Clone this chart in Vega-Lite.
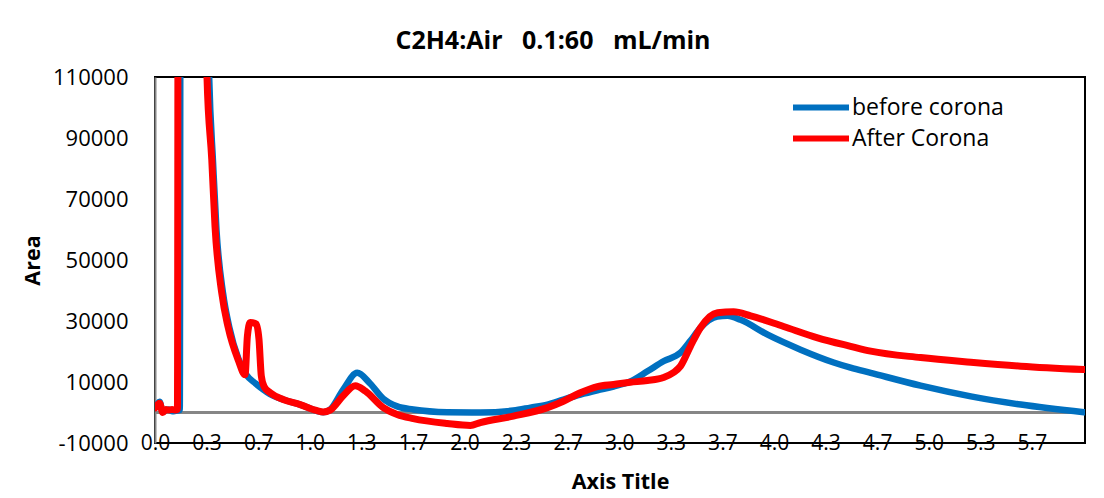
{
  "$schema": "https://vega.github.io/schema/vega-lite/v6.json",
  "width": 930,
  "height": 366,
  "autosize": "none",
  "padding": {"left": 155, "top": 77, "right": 19, "bottom": 55},
  "background": "white",
  "config": {
    "font": "Open Sans",
    "view": {"stroke": "black", "strokeWidth": 2},
    "axis": {"grid": false, "ticks": false, "labelColor": "black", "titleColor": "black"}
  },
  "title": {
    "text": "C2H4:Air\u00a0 \u00a00.1:60\u00a0 \u00a0mL/min",
    "font": "Open Sans",
    "fontSize": 25,
    "fontWeight": "bold",
    "color": "black",
    "anchor": "middle",
    "dx": -67,
    "dy": 25,
    "baseline": "middle",
    "offset": 25
  },
  "data": {
    "values": [
      {"t": 0.0, "v": 1500, "s": "before corona"},
      {"t": 0.03, "v": 3500, "s": "before corona"},
      {"t": 0.05, "v": 300, "s": "before corona"},
      {"t": 0.07, "v": 800, "s": "before corona"},
      {"t": 0.09, "v": 1000, "s": "before corona"},
      {"t": 0.11, "v": 400, "s": "before corona"},
      {"t": 0.14, "v": 600, "s": "before corona"},
      {"t": 0.16, "v": 800, "s": "before corona"},
      {"t": 0.168, "v": 300000, "s": "before corona"},
      {"t": 0.3, "v": 300000, "s": "before corona"},
      {"t": 0.33, "v": 160000, "s": "before corona"},
      {"t": 0.35, "v": 110000, "s": "before corona"},
      {"t": 0.375, "v": 82000, "s": "before corona"},
      {"t": 0.397, "v": 60000, "s": "before corona"},
      {"t": 0.44, "v": 39000, "s": "before corona"},
      {"t": 0.48, "v": 28000, "s": "before corona"},
      {"t": 0.54, "v": 17500, "s": "before corona"},
      {"t": 0.59, "v": 12400, "s": "before corona"},
      {"t": 0.65, "v": 9500, "s": "before corona"},
      {"t": 0.7, "v": 7500, "s": "before corona"},
      {"t": 0.744, "v": 6000, "s": "before corona"},
      {"t": 0.828, "v": 4250, "s": "before corona"},
      {"t": 0.938, "v": 2600, "s": "before corona"},
      {"t": 1.048, "v": 500, "s": "before corona"},
      {"t": 1.087, "v": 100, "s": "before corona"},
      {"t": 1.132, "v": 1000, "s": "before corona"},
      {"t": 1.216, "v": 7500, "s": "before corona"},
      {"t": 1.307, "v": 13000, "s": "before corona"},
      {"t": 1.39, "v": 9500, "s": "before corona"},
      {"t": 1.475, "v": 4500, "s": "before corona"},
      {"t": 1.565, "v": 2000, "s": "before corona"},
      {"t": 1.669, "v": 1000, "s": "before corona"},
      {"t": 1.889, "v": 100, "s": "before corona"},
      {"t": 2.102, "v": 0, "s": "before corona"},
      {"t": 2.316, "v": 650, "s": "before corona"},
      {"t": 2.426, "v": 1600, "s": "before corona"},
      {"t": 2.536, "v": 2600, "s": "before corona"},
      {"t": 2.639, "v": 4250, "s": "before corona"},
      {"t": 2.749, "v": 5900, "s": "before corona"},
      {"t": 2.859, "v": 7300, "s": "before corona"},
      {"t": 2.963, "v": 8500, "s": "before corona"},
      {"t": 3.072, "v": 10200, "s": "before corona"},
      {"t": 3.182, "v": 13500, "s": "before corona"},
      {"t": 3.286, "v": 16800, "s": "before corona"},
      {"t": 3.396, "v": 19600, "s": "before corona"},
      {"t": 3.46, "v": 23500, "s": "before corona"},
      {"t": 3.525, "v": 27800, "s": "before corona"},
      {"t": 3.635, "v": 31500, "s": "before corona"},
      {"t": 3.7, "v": 31700, "s": "before corona"},
      {"t": 3.784, "v": 30400, "s": "before corona"},
      {"t": 3.959, "v": 25500, "s": "before corona"},
      {"t": 4.172, "v": 20600, "s": "before corona"},
      {"t": 4.386, "v": 16400, "s": "before corona"},
      {"t": 4.495, "v": 14700, "s": "before corona"},
      {"t": 4.625, "v": 13000, "s": "before corona"},
      {"t": 4.948, "v": 8800, "s": "before corona"},
      {"t": 5.272, "v": 5300, "s": "before corona"},
      {"t": 5.595, "v": 2600, "s": "before corona"},
      {"t": 6.003, "v": 100, "s": "before corona"},
      {"t": 0.0, "v": 1500, "s": "After Corona"},
      {"t": 0.03, "v": 3000, "s": "After Corona"},
      {"t": 0.05, "v": 0, "s": "After Corona"},
      {"t": 0.07, "v": 1000, "s": "After Corona"},
      {"t": 0.09, "v": 800, "s": "After Corona"},
      {"t": 0.11, "v": 1000, "s": "After Corona"},
      {"t": 0.13, "v": 800, "s": "After Corona"},
      {"t": 0.145, "v": 1000, "s": "After Corona"},
      {"t": 0.152, "v": 300000, "s": "After Corona"},
      {"t": 0.3, "v": 300000, "s": "After Corona"},
      {"t": 0.32, "v": 160000, "s": "After Corona"},
      {"t": 0.336, "v": 110000, "s": "After Corona"},
      {"t": 0.367, "v": 82800, "s": "After Corona"},
      {"t": 0.388, "v": 60900, "s": "After Corona"},
      {"t": 0.431, "v": 39300, "s": "After Corona"},
      {"t": 0.472, "v": 28100, "s": "After Corona"},
      {"t": 0.537, "v": 17300, "s": "After Corona"},
      {"t": 0.582, "v": 12400, "s": "After Corona"},
      {"t": 0.597, "v": 25000, "s": "After Corona"},
      {"t": 0.615, "v": 29500, "s": "After Corona"},
      {"t": 0.655, "v": 29000, "s": "After Corona"},
      {"t": 0.672, "v": 24000, "s": "After Corona"},
      {"t": 0.687, "v": 12000, "s": "After Corona"},
      {"t": 0.705, "v": 8500, "s": "After Corona"},
      {"t": 0.744, "v": 6500, "s": "After Corona"},
      {"t": 0.828, "v": 4250, "s": "After Corona"},
      {"t": 0.938, "v": 2600, "s": "After Corona"},
      {"t": 1.048, "v": 600, "s": "After Corona"},
      {"t": 1.087, "v": 200, "s": "After Corona"},
      {"t": 1.132, "v": 800, "s": "After Corona"},
      {"t": 1.216, "v": 5500, "s": "After Corona"},
      {"t": 1.294, "v": 8800, "s": "After Corona"},
      {"t": 1.36, "v": 7000, "s": "After Corona"},
      {"t": 1.475, "v": 1600, "s": "After Corona"},
      {"t": 1.565, "v": -650, "s": "After Corona"},
      {"t": 1.669, "v": -2000, "s": "After Corona"},
      {"t": 1.889, "v": -3600, "s": "After Corona"},
      {"t": 2.038, "v": -4250, "s": "After Corona"},
      {"t": 2.102, "v": -3300, "s": "After Corona"},
      {"t": 2.316, "v": -1200, "s": "After Corona"},
      {"t": 2.536, "v": 1600, "s": "After Corona"},
      {"t": 2.639, "v": 3700, "s": "After Corona"},
      {"t": 2.749, "v": 6500, "s": "After Corona"},
      {"t": 2.859, "v": 8500, "s": "After Corona"},
      {"t": 2.963, "v": 9200, "s": "After Corona"},
      {"t": 3.072, "v": 9900, "s": "After Corona"},
      {"t": 3.182, "v": 10500, "s": "After Corona"},
      {"t": 3.286, "v": 11500, "s": "After Corona"},
      {"t": 3.351, "v": 13100, "s": "After Corona"},
      {"t": 3.396, "v": 15200, "s": "After Corona"},
      {"t": 3.46, "v": 21700, "s": "After Corona"},
      {"t": 3.525, "v": 27800, "s": "After Corona"},
      {"t": 3.635, "v": 32700, "s": "After Corona"},
      {"t": 3.739, "v": 33000, "s": "After Corona"},
      {"t": 3.849, "v": 31700, "s": "After Corona"},
      {"t": 4.062, "v": 28200, "s": "After Corona"},
      {"t": 4.282, "v": 24500, "s": "After Corona"},
      {"t": 4.495, "v": 21700, "s": "After Corona"},
      {"t": 4.625, "v": 20100, "s": "After Corona"},
      {"t": 4.948, "v": 18000, "s": "After Corona"},
      {"t": 5.272, "v": 16500, "s": "After Corona"},
      {"t": 5.595, "v": 15200, "s": "After Corona"},
      {"t": 6.003, "v": 14100, "s": "After Corona"}
    ]
  },
  "encoding": {
    "x": {
      "field": "t",
      "type": "quantitative",
      "scale": {"domain": [0, 6.01], "nice": false, "zero": false},
      "axis": {
        "values": [0, 0.33333, 0.66667, 1, 1.33333, 1.66667, 2, 2.33333, 2.66667, 3, 3.33333, 3.66667, 4, 4.33333, 4.66667, 5, 5.33333, 5.66667],
        "format": ".1f",
        "domain": false,
        "labelFontSize": 21,
        "labelBaseline": "alphabetic",
        "labelPadding": 6,
        "labelFlush": false,
        "labelOverlap": false,
        "title": "Axis Title",
        "titleFontSize": 21.5,
        "titleFontWeight": "bold",
        "titleY": 39,
        "titleBaseline": "middle"
      }
    },
    "y": {
      "field": "v",
      "type": "quantitative",
      "scale": {"domain": [-10000, 110000], "nice": false, "zero": false},
      "axis": {
        "values": [-10000, 10000, 30000, 50000, 70000, 90000, 110000],
        "labelExpr": "'' + datum.value",
        "domain": true,
        "domainColor": "#868686",
        "domainWidth": 2,
        "labelFontSize": 22,
        "labelPadding": 27,
        "labelOverlap": false,
        "title": "Area",
        "titleFontSize": 21.5,
        "titleFontWeight": "bold",
        "titleAngle": -90,
        "titleX": -122,
        "titleY": 183,
        "titleAlign": "center",
        "titleBaseline": "middle"
      }
    }
  },
  "layer": [
    {
      "mark": {"type": "rule", "color": "#868686", "strokeWidth": 2},
      "encoding": {"y": {"datum": 0}, "x": {"datum": 0}, "x2": {"datum": 6.01}}
    },
    {
      "transform": [{"filter": "datum.s === 'before corona'"}],
      "mark": {"type": "line", "strokeWidth": 6.5, "interpolate": "monotone", "clip": true, "strokeCap": "round", "strokeJoin": "round"},
      "encoding": {
        "color": {
          "field": "s",
          "type": "nominal",
          "scale": {"domain": ["before corona", "After Corona"], "range": ["#0070C0", "#FF0000"]},
          "legend": {
            "title": null,
            "orient": "none",
            "legendX": 635,
            "legendY": 15,
            "padding": 0,
            "symbolType": "stroke",
            "symbolSize": 3136,
            "symbolStrokeWidth": 6,
            "clipHeight": 31,
            "labelFontSize": 23,
            "labelColor": "black",
            "labelOffset": 0,
            "rowPadding": 0
          }
        }
      }
    },
    {
      "transform": [{"filter": "datum.s === 'After Corona'"}],
      "mark": {"type": "line", "strokeWidth": 7, "interpolate": "monotone", "clip": true, "strokeCap": "round", "strokeJoin": "round"},
      "encoding": {
        "color": {"field": "s", "type": "nominal"}
      }
    }
  ]
}
